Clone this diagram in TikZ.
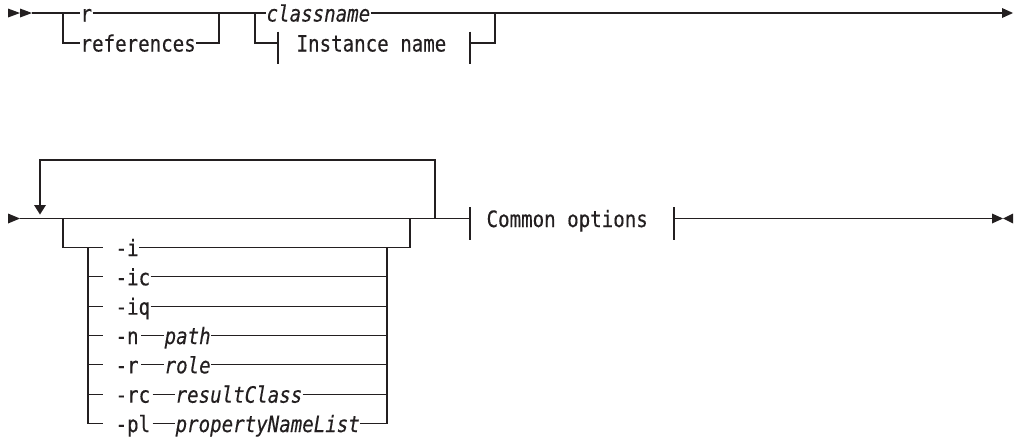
\documentclass[tikz,border=0pt]{standalone}
\usepackage{fontspec}
\setmainfont[FakeStretch=0.85,FakeBold=0.3]{DejaVu Sans Mono}
\usetikzlibrary{calc}
\definecolor{ink}{RGB}{35,31,32}
\begin{document}
\begin{tikzpicture}[x=1pt,y=-1pt,line width=1.2pt,
  every path/.style={draw=ink},
  lbl/.style={inner sep=0pt, anchor=base west, text=ink, font=\fontsize{22.5pt}{27pt}\selectfont},
  argl/.style={lbl, font=\fontsize{22.5pt}{27pt}\selectfont\itshape},
  tip/.style={fill=ink, draw=none}]
\useasboundingbox[draw=none] (0,0) rectangle (1016,437);
\begin{scope}[yshift=4pt]
% ---------------- Row 1 ----------------
\fill[tip] (8,12.5) -- (20,17) -- (8,21.5) -- cycle;
\fill[tip] (20,12.5) -- (32,17) -- (20,21.5) -- cycle;
\coordinate (s1) at (32,17);
\coordinate (a1) at (63,17);  \coordinate (a2) at (63,47);
\coordinate (b1) at (219,17); \coordinate (b2) at (219,47);
\coordinate (c1) at (255,17); \coordinate (c2) at (255,47);
\coordinate (d1) at (495,17); \coordinate (d2) at (495,47);
\coordinate (e1) at (1003,17);
\coordinate (t1) at (278,47); \coordinate (t2) at (470,47);

\node[lbl] (r) at (80,25.5) {r};
\node[lbl] (refs) at (80,55.5) {references};
\node[argl] (cls) at (266,25.5) {classname};
\node[lbl] (inst) at (296,55.5) {Instance name};

\draw (s1) -- (a1) -- (r.west |- a1);
\draw (r.east |- a1) -- (b1) -- (c1) -- (cls.west |- c1);
\draw (a1) -- (a2) -- (refs.west |- a2);
\draw (refs.east |- b2) -- (b2) -- (b1);
\draw (cls.east |- c1) -- (d1) -- (e1);
\draw (c1) -- (c2) -- (t1);
\draw ([yshift=11.5pt]t1) -- ([yshift=-21pt]t1);
\draw ([yshift=11.5pt]t2) -- ([yshift=-21pt]t2);
\draw (t2) -- (d2) -- (d1);
\fill[tip] (1002,12) -- (1013,17) -- (1002,22) -- cycle;

% ---------------- Row 2 ----------------
\fill[tip] (8,217.5) -- (20,222.5) -- (8,227.5) -- cycle;
\coordinate (f0) at (20,222.5);
\coordinate (lp) at (40,210);
\coordinate (lq) at (40,164);
\coordinate (lr) at (435,164);
\coordinate (ls) at (435,222.5);
\coordinate (g1) at (63,222.5);
\coordinate (h1) at (410,222.5);
\coordinate (u1) at (470,222.5);
\coordinate (u2) at (674,222.5);
\coordinate (z1) at (992,222.5);

% loop back
\draw (lp) -- (lq) -- (lr) -- (ls);
\fill[tip] (34,209) -- (46,209) -- (40,218.5) -- cycle;

% options
\foreach \n/\t/\y in {oi/-i/251.5, oic/-ic/280.8, oiq/-iq/310.2, on/-n/339.5, or/-r/368.8, orc/-rc/398.2, opl/-pl/427.5}{
  \node[lbl] (\n) at (115,\y+8.5) {\t};
}
\node[argl] (pn) at (164,348) {path};
\node[argl] (pr) at (164,377.3) {role};
\node[argl] (prc) at (175,406.7) {resultClass};
\node[argl] (ppl) at (175,436) {propertyNameList};

\coordinate (g2) at (63,251.5);
\coordinate (h2) at (410,251.5);
\coordinate (k1) at (88,251.5);
\coordinate (k2) at (88,427.5);
\coordinate (m1) at (387,251.5);
\coordinate (m2) at (387,427.5);

\draw (f0) -- (g1) -- (ls) -- (u1);
\draw (g1) -- (g2) -- ([xshift=-12pt]oi.west |- g2);
\draw (oi.east |- g2) -- (h2) -- (h1);
\draw (k1) -- (k2);
\draw (m1) -- (m2);

\foreach \n/\y in {oic/280.8, oiq/310.2}{
  \draw (88,\y) -- ([xshift=-12pt]\n.west |- 88,\y);
  \draw (\n.east |- 88,\y) -- (387,\y);
}
\foreach \n/\a/\y in {on/pn/339.5, or/pr/368.8, orc/prc/398.2, opl/ppl/427.5}{
  \draw (88,\y) -- ([xshift=-12pt]\n.west |- 88,\y);
  \draw ([xshift=2pt]\n.east |- 88,\y) -- (\a.west |- 88,\y);
  \draw (\a.east |- 88,\y) -- (387,\y);
}

% common options
\node[lbl] (co) at (486,231) {Common options};
\draw ([yshift=11.5pt]u1) -- ([yshift=-21pt]u1);
\draw ([yshift=11.5pt]u2) -- ([yshift=-21pt]u2);
\draw (u2) -- (z1);
\fill[tip] (992,217.5) -- (1003,222.5) -- (992,227.5) -- cycle;
\fill[tip] (1013,217.5) -- (1003,222.5) -- (1013,227.5) -- cycle;
\end{scope}
\end{tikzpicture}
\end{document}
